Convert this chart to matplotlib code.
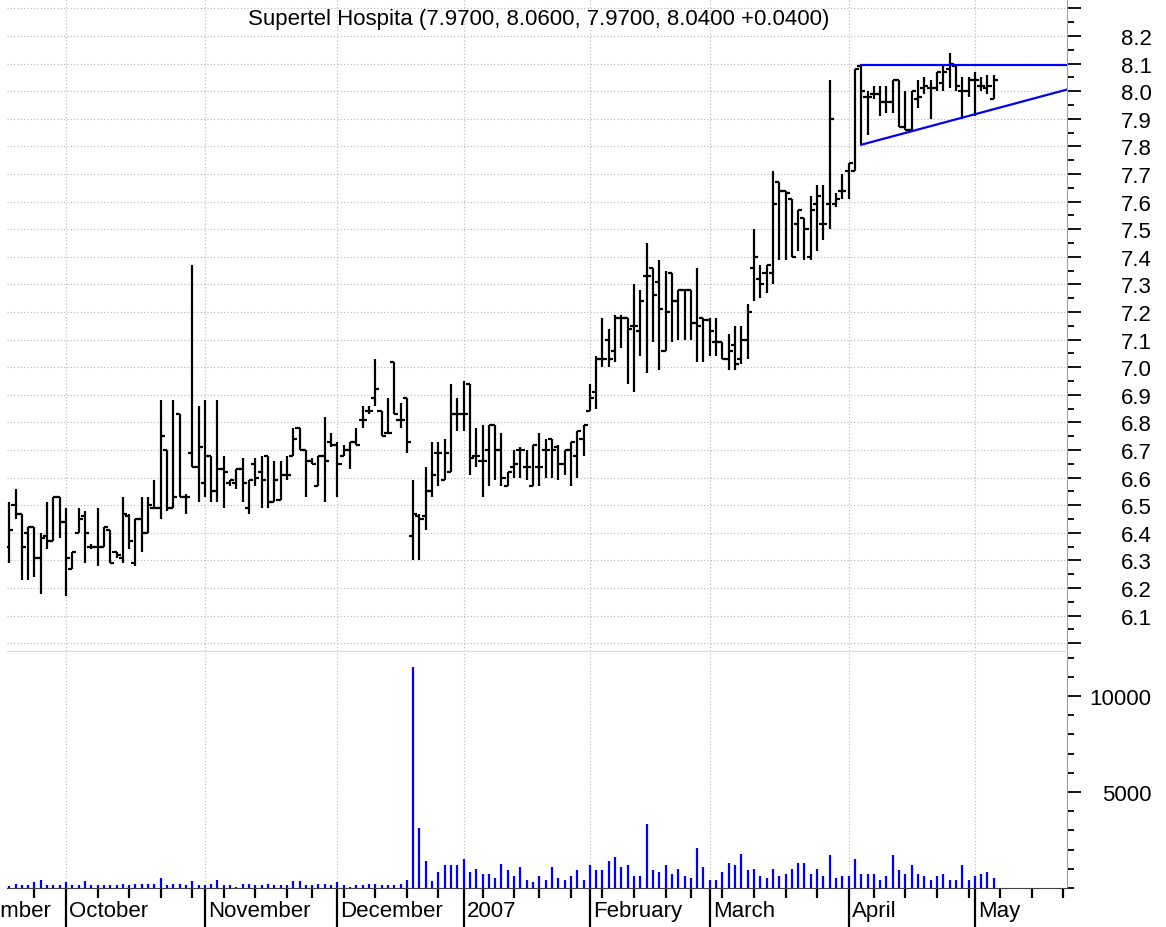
import numpy as np
import pandas as pd
import matplotlib
matplotlib.use('Agg')
import matplotlib.pyplot as plt
from matplotlib.ticker import FixedLocator, MultipleLocator, NullFormatter, FuncFormatter

plt.rcParams['font.family'] = ['Liberation Sans', 'DejaVu Sans']

# trading calendar (exchange holidays removed)
holidays = ['2006-09-04', '2006-11-23', '2006-12-25', '2007-01-01', '2007-01-02',
            '2007-01-15', '2007-02-19', '2007-04-06', '2007-05-28']
days = pd.bdate_range('2006-09-01', '2007-05-31')
days = days[~days.isin(pd.to_datetime(holidays))]

first_bar = '2006-09-19'
month_names = ['September', 'October', 'November', 'December', '2007',
               'February', 'March', 'April', 'May']

opens = [6.35, 6.50, 6.47, 6.40, 6.42, 6.31, 6.39, 6.37, 6.53, 6.44,
         6.27, 6.40, 6.46, 6.35, 6.35, 6.35, 6.41, 6.33, 6.31, 6.46,
         6.29, 6.45, 6.40, 6.49, 6.49, 6.70, 6.49, 6.83, 6.53, 6.69,
         6.64, 6.58, 6.68, 6.55, 6.63, 6.58, 6.58, 6.63, 6.49, 6.65,
         6.62, 6.68, 6.51, 6.52, 6.61, 6.68, 6.78, 6.70, 6.66, 6.57,
         6.68, 6.73, 6.72, 6.68, 6.70, 6.73, 6.81, 6.84, 6.89, 6.84,
         6.76, 7.02, 6.81, 6.89, 6.39, 6.46, 6.46, 6.55, 6.69, 6.59,
         6.62, 6.83, 6.83, 6.94, 6.68, 6.66, 6.70, 6.79, 6.70, 6.57,
         6.64, 6.70, 6.64, 6.57, 6.64, 6.70, 6.74, 6.71, 6.65, 6.70,
         6.68, 6.74, 6.84, 6.91, 7.03, 7.10, 7.06, 7.18, 7.18, 7.15,
         7.13, 7.33, 7.36, 7.31, 7.06, 7.34, 7.24, 7.28, 7.28, 7.16,
         7.18, 7.17, 7.09, 7.09, 7.03, 7.08, 7.03, 7.10, 7.36, 7.32,
         7.34, 7.34, 7.67, 7.64, 7.61, 7.52, 7.54, 7.40, 7.59, 7.52,
         7.59, 7.59, 7.64, 7.71, 7.71, 8.09, 7.98, 7.99, 7.99, 7.96,
         7.96, 8.04, 7.87, 7.86, 7.97, 8.01, 8.01, 8.01, 8.03, 8.08,
         8.09, 8.00, 8.00, 8.04, 8.02, 8.01, 7.97]
highs = [6.51, 6.56, 6.47, 6.42, 6.42, 6.40, 6.51, 6.53, 6.53, 6.49,
         6.33, 6.49, 6.48, 6.36, 6.49, 6.42, 6.41, 6.33, 6.53, 6.47,
         6.45, 6.53, 6.53, 6.59, 6.88, 6.70, 6.88, 6.83, 6.54, 7.37,
         6.86, 6.88, 6.68, 6.88, 6.68, 6.59, 6.63, 6.67, 6.59, 6.67,
         6.68, 6.68, 6.66, 6.66, 6.68, 6.78, 6.78, 6.70, 6.67, 6.68,
         6.82, 6.76, 6.73, 6.72, 6.73, 6.78, 6.86, 6.86, 7.03, 6.84,
         6.89, 7.02, 6.87, 6.89, 6.59, 6.47, 6.64, 6.73, 6.73, 6.74,
         6.94, 6.89, 6.95, 6.94, 6.78, 6.79, 6.79, 6.79, 6.76, 6.62,
         6.70, 6.71, 6.70, 6.72, 6.76, 6.74, 6.74, 6.72, 6.70, 6.73,
         6.77, 6.79, 6.94, 7.04, 7.18, 7.14, 7.19, 7.19, 7.18, 7.30,
         7.28, 7.45, 7.36, 7.39, 7.35, 7.34, 7.28, 7.28, 7.28, 7.36,
         7.18, 7.18, 7.18, 7.09, 7.12, 7.15, 7.15, 7.23, 7.50, 7.37,
         7.37, 7.71, 7.67, 7.64, 7.61, 7.57, 7.54, 7.62, 7.66, 7.66,
         8.04, 7.63, 7.70, 7.74, 8.08, 8.09, 8.00, 8.02, 8.02, 8.02,
         8.04, 8.04, 8.00, 8.00, 8.04, 8.05, 8.04, 8.07, 8.10, 8.14,
         8.09, 8.05, 8.05, 8.07, 8.05, 8.06, 8.06]
lows = [6.29, 6.45, 6.23, 6.23, 6.24, 6.18, 6.34, 6.37, 6.38, 6.17,
        6.27, 6.40, 6.29, 6.34, 6.28, 6.35, 6.29, 6.31, 6.29, 6.34,
        6.28, 6.33, 6.40, 6.49, 6.45, 6.48, 6.49, 6.53, 6.47, 6.64,
        6.51, 6.53, 6.51, 6.51, 6.49, 6.57, 6.56, 6.51, 6.47, 6.57,
        6.49, 6.49, 6.51, 6.52, 6.59, 6.68, 6.70, 6.53, 6.65, 6.57,
        6.51, 6.71, 6.53, 6.68, 6.63, 6.72, 6.78, 6.83, 6.86, 6.75,
        6.76, 6.83, 6.78, 6.69, 6.30, 6.30, 6.41, 6.53, 6.57, 6.59,
        6.62, 6.77, 6.77, 6.61, 6.64, 6.53, 6.57, 6.59, 6.57, 6.57,
        6.60, 6.60, 6.59, 6.57, 6.57, 6.60, 6.60, 6.59, 6.61, 6.57,
        6.60, 6.68, 6.84, 6.85, 7.00, 7.00, 7.02, 7.07, 6.94, 6.91,
        7.04, 6.98, 7.09, 6.99, 7.06, 7.09, 7.10, 7.10, 7.10, 7.02,
        7.02, 7.04, 7.04, 7.03, 6.99, 6.99, 7.01, 7.03, 7.24, 7.25,
        7.27, 7.30, 7.39, 7.39, 7.40, 7.42, 7.39, 7.39, 7.42, 7.46,
        7.50, 7.58, 7.61, 7.61, 7.71, 7.81, 7.84, 7.97, 7.91, 7.92,
        7.92, 7.87, 7.86, 7.86, 7.94, 7.99, 7.90, 8.00, 8.00, 8.01,
        8.00, 7.90, 7.98, 7.91, 8.00, 7.99, 7.97]
closes = [6.41, 6.47, 6.35, 6.42, 6.31, 6.38, 6.37, 6.53, 6.44, 6.31,
          6.33, 6.45, 6.40, 6.35, 6.35, 6.42, 6.29, 6.32, 6.47, 6.37,
          6.45, 6.40, 6.50, 6.49, 6.75, 6.49, 6.53, 6.53, 6.53, 6.64,
          6.71, 6.68, 6.55, 6.63, 6.62, 6.59, 6.63, 6.58, 6.59, 6.60,
          6.59, 6.51, 6.59, 6.61, 6.61, 6.74, 6.70, 6.66, 6.65, 6.68,
          6.66, 6.72, 6.65, 6.70, 6.73, 6.72, 6.81, 6.84, 6.92, 6.75,
          6.76, 6.83, 6.81, 6.73, 6.47, 6.45, 6.55, 6.61, 6.69, 6.69,
          6.83, 6.83, 6.83, 6.67, 6.68, 6.66, 6.79, 6.70, 6.60, 6.62,
          6.65, 6.70, 6.64, 6.72, 6.64, 6.70, 6.70, 6.65, 6.70, 6.73,
          6.77, 6.79, 6.89, 7.03, 7.03, 7.03, 7.18, 7.18, 7.14, 7.15,
          7.24, 7.33, 7.26, 7.21, 7.20, 7.24, 7.28, 7.28, 7.16, 7.15,
          7.17, 7.13, 7.09, 7.03, 7.06, 7.01, 7.10, 7.20, 7.40, 7.30,
          7.37, 7.59, 7.64, 7.63, 7.40, 7.57, 7.50, 7.57, 7.62, 7.52,
          7.90, 7.61, 7.64, 7.74, 8.08, 8.00, 7.98, 7.99, 7.96, 7.96,
          8.04, 7.87, 7.86, 8.00, 7.98, 8.02, 8.01, 8.07, 8.07, 8.10,
          8.02, 8.00, 8.04, 8.04, 8.02, 8.02, 8.04]
volume = [90, 225, 140, 140, 300, 435, 140, 140, 140, 300,
          140, 140, 350, 140, 140, 140, 140, 140, 225, 140,
          225, 225, 225, 225, 520, 140, 225, 225, 140, 350,
          140, 140, 225, 435, 140, 140, 50, 225, 225, 140,
          140, 225, 140, 140, 140, 350, 350, 140, 140, 225,
          225, 140, 300, 140, 50, 140, 140, 225, 225, 140,
          140, 140, 225, 435, 11490, 3125, 1390, 350, 815, 1215,
          1215, 1215, 1510, 815, 1005, 730, 730, 520,
          1267, 920, 608, 1094, 434, 312, 608, 434, 1094, 521,
          434, 608, 920, 434, 1180, 920, 920, 1389, 1597, 1094,
          1180, 608, 608, 3333, 920, 816, 1180, 729, 1007, 608,
          521, 2083, 1094, 434, 434, 816, 1302, 1180, 1771, 920,
          1007, 608, 521, 1007, 608, 729, 1007, 1302, 1302, 729,
          1007, 608, 1701, 521, 608, 608, 1510, 729, 729, 729,
          434, 608, 1701, 920, 729, 1180, 729, 608, 434, 608,
          729, 434, 434, 1180, 434, 608, 729, 816, 521]

# triangle trendlines (trading-day position, price)
resist_x, resist_y = [146.0, 178.6], [8.095, 8.095]
support_x, support_y = [146.0, 178.6], [7.806, 8.006]

start = days.get_loc(pd.Timestamp(first_bar))
x = np.arange(start, start + len(opens))
month_pos = [i for i in range(len(days)) if i == 0 or days[i].month != days[i - 1].month]
week_pos = [i for i in range(1, len(days)) if days[i].isocalendar()[1] != days[i - 1].isocalendar()[1]]

W, H = 1166, 928
fig = plt.figure(figsize=(W / 100, H / 100), dpi=100)
ax = fig.add_axes([7 / W, 276 / H, 1060 / W, 652 / H])
axv = fig.add_axes([7 / W, 39 / H, 1060 / W, 237 / H], sharex=ax)

grid_kw = dict(color='#b8b8b8', linestyle=(0, (1, 2)), linewidth=0.8)

# price bars
ax.vlines(x, lows, highs, color='black', lw=1.6)
ax.hlines(opens, x - 0.65, x, color='black', lw=1.6)
ax.hlines(closes, x, x + 0.65, color='black', lw=1.6)
ax.plot(resist_x, resist_y, color='#0000ff', lw=1.6)
ax.plot(support_x, support_y, color='#0000ff', lw=1.6)

ax.set_xlim(10.65, 178.6)
ax.set_ylim(5.972, 8.334)
ax.yaxis.tick_right()
ax.yaxis.set_major_locator(FixedLocator(np.round(np.arange(6.0, 8.31, 0.1), 1)))
ax.yaxis.set_minor_locator(MultipleLocator(0.05))
ax.yaxis.set_major_formatter(FuncFormatter(lambda v, p: f'{v:.1f}' if 6.05 < v < 8.25 else ''))
ax.tick_params(axis='y', which='major', length=10, width=1.3, pad=51, labelsize=16)
ax.tick_params(axis='y', which='minor', length=5, width=1.3)
ax.tick_params(axis='x', which='both', bottom=False, labelbottom=False)
ax.grid(axis='both', which='major', **grid_kw)
for s in ['top', 'left', 'bottom']:
    ax.spines[s].set_visible(False)
ax.spines['right'].set_color('#a0a0a0')

# volume
axv.vlines(x, 0, volume, color='#0000ff', lw=1.6)
axv.set_ylim(0, 12344)
axv.yaxis.tick_right()
axv.yaxis.set_major_locator(FixedLocator([5000, 10000]))
axv.yaxis.set_minor_locator(MultipleLocator(1000))
axv.tick_params(axis='y', which='major', length=10, width=1.3, pad=51, labelsize=16)
axv.tick_params(axis='y', which='minor', length=5, width=1.3)
axv.xaxis.set_major_locator(FixedLocator(month_pos))
axv.xaxis.set_minor_locator(FixedLocator(week_pos))
axv.xaxis.set_major_formatter(NullFormatter())
axv.tick_params(axis='x', which='major', length=28, width=1.6, color='black')
axv.tick_params(axis='x', which='minor', length=7, width=1.6, color='black')
axv.grid(axis='x', which='major', **grid_kw)
axv.spines['left'].set_visible(False)
axv.spines['top'].set_color('#d8d8d8')
axv.spines['bottom'].set_color('#404040')
axv.spines['right'].set_color('#a0a0a0')

for a in (ax, axv):
    for t in a.yaxis.get_major_ticks():
        t.label2.set_horizontalalignment('right')

for pos, name in zip(month_pos, month_names):
    axv.annotate(name, xy=(pos, 0), xycoords=('data', 'axes fraction'),
                 xytext=(3, -23), textcoords='offset pixels',
                 ha='left', va='center', fontsize=16, annotation_clip=False)

fig.text(539 / W, 1 - 20 / H, 'Supertel Hospita (7.9700, 8.0600, 7.9700, 8.0400 +0.0400)',
         ha='center', va='center', fontsize=16)

fig.savefig('out.png', dpi=100)
